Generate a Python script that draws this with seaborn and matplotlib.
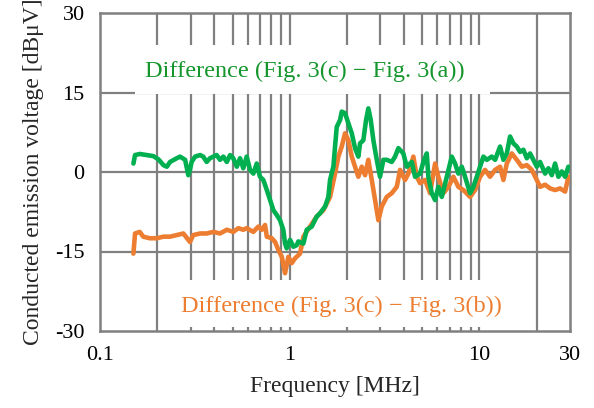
import numpy as np
import pandas as pd
import seaborn as sns
import matplotlib
matplotlib.use("Agg")
import matplotlib.pyplot as plt
from matplotlib.patches import Rectangle
from matplotlib.ticker import FixedLocator, NullFormatter, NullLocator

# ---- data (frequency in MHz, level in dB) ----
green_freq = [0.150, 0.153, 0.162, 0.176, 0.191, 0.203, 0.216, 0.225, 0.234, 0.254,
              0.264, 0.281, 0.292, 0.298, 0.304, 0.317, 0.337, 0.350, 0.365, 0.380,
              0.412, 0.429, 0.447, 0.466, 0.485, 0.504, 0.526, 0.547, 0.569, 0.593,
              0.618, 0.643, 0.670, 0.697, 0.726, 0.757, 0.788, 0.820, 0.854, 0.889,
              0.925, 0.945, 0.964, 1.004, 1.045, 1.089, 1.110, 1.180, 1.229, 1.306,
              1.388, 1.444, 1.536, 1.598, 1.631, 1.698, 1.733, 1.769, 1.842, 1.880,
              1.956, 2.037, 2.123, 2.209, 2.299, 2.347, 2.443, 2.525, 2.596, 2.673,
              2.759, 2.875, 2.992, 3.115, 3.246, 3.449, 3.590, 3.737, 3.970, 4.138,
              4.397, 4.577, 4.863, 5.062, 5.275, 5.378, 5.606, 5.835, 6.074, 6.330,
              6.726, 7.145, 7.438, 7.742, 8.067, 8.397, 8.921, 9.286, 9.678, 10.07,
              10.49, 10.93, 11.61, 12.09, 12.84, 13.37, 13.93, 14.50, 15.09, 15.73,
              16.37, 17.04, 17.76, 18.48, 19.23, 20.05, 20.86, 22.18, 23.08, 24.05,
              25.03, 26.06, 27.16, 28.27, 29.42]
green_db = [1.6, 3.2, 3.4, 3.2, 3.0, 2.4, 1.3, 1.0, 1.9, 2.6,
            2.9, 2.3, -0.6, 0.4, 1.9, 2.9, 3.2, 2.9, 1.9, 2.6,
            3.2, 2.3, 2.9, 1.9, 3.2, 2.6, 1.0, 2.6, 0.7, 2.9,
            0.4, -0.3, 1.6, -0.9, -1.5, -3.4, -5.3, -7.2, -8.1, -9.1,
            -10.9, -13.5, -14.4, -12.8, -14.1, -13.8, -13.1, -13.5, -10.9, -10.3,
            -8.4, -7.8, -6.5, -4.7, -1.5, 1.0, 4.8, 8.5, 9.8, 11.4,
            11.1, 9.2, 7.3, 4.5, 2.9, 5.4, 6.0, 9.8, 12.0, 9.8,
            6.0, 2.3, -0.9, 2.3, 2.3, 1.9, 2.9, 4.5, 3.5, 1.0,
            1.9, -0.9, -0.3, 1.9, 3.5, -0.9, -4.0, -5.3, -2.8, -4.7,
            -0.9, 2.9, 1.6, -0.3, 1.0, -0.9, -4.0, -2.8, -0.9, 1.0,
            2.9, 2.3, 2.9, 2.3, 4.8, 2.3, 3.5, 6.7, 5.4, 4.8,
            3.8, 4.2, 2.6, 3.5, 2.3, 1.0, 1.9, -0.3, 0.7, -0.6,
            1.6, -0.9, 0.1, -0.9, 1.0]

orange_freq = [0.150, 0.153, 0.162, 0.169, 0.183, 0.199, 0.216, 0.234, 0.254, 0.275,
               0.298, 0.310, 0.337, 0.365, 0.396, 0.429, 0.466, 0.504, 0.536, 0.569,
               0.593, 0.643, 0.683, 0.712, 0.741, 0.757, 0.804, 0.837, 0.871, 0.908,
               0.945, 0.983, 1.024, 1.066, 1.133, 1.180, 1.279, 1.388, 1.504, 1.631,
               1.733, 1.804, 1.880, 1.956, 2.037, 2.123, 2.209, 2.299, 2.396, 2.495,
               2.596, 2.706, 2.817, 2.932, 3.055, 3.246, 3.449, 3.665, 3.814, 4.053,
               4.219, 4.484, 4.672, 4.863, 5.167, 5.491, 5.835, 6.074, 6.453, 6.858,
               7.286, 7.742, 8.225, 8.921, 9.480, 10.07, 10.70, 11.37, 12.09, 12.84,
               13.37, 13.93, 14.80, 15.73, 16.71, 17.76, 18.87, 20.05, 20.86, 22.18,
               23.56, 25.03, 26.60, 28.27, 29.42]
orange_db = [-15.4, -11.6, -11.3, -12.2, -12.5, -12.5, -12.2, -12.2, -11.9, -11.6,
             -13.2, -11.9, -11.6, -11.6, -11.3, -11.6, -10.9, -11.3, -10.6, -10.9,
             -10.6, -11.3, -10.3, -10.9, -10.0, -12.2, -12.5, -13.2, -14.7, -16.0,
             -19.1, -16.0, -17.2, -16.3, -15.4, -12.2, -10.3, -8.4, -7.2, -4.7,
             -0.3, 2.9, 4.8, 7.3, 6.0, 2.9, 1.0, -0.9, 1.0, -0.6,
             2.3, -1.5, -5.3, -9.1, -6.5, -4.7, -4.0, -2.8, 0.4, -1.5,
             -0.3, 2.9, -0.9, -2.1, -1.5, -4.0, 1.6, -0.9, -4.0, -2.8,
             -0.9, -2.8, -3.4, -4.7, -3.4, -0.9, 0.4, -0.9, 0.4, 1.0,
             -1.5, 1.6, 3.5, 2.3, 1.0, 1.3, 0.4, -1.5, -2.8, -2.4,
             -3.1, -3.4, -3.1, -3.7, -0.9]

x_tick_values = [0.1, 1, 10, 30]
x_tick_labels = ["0.1", "1", "10", "30"]
y_tick_values = [-30, -15, 0, 15, 30]
y_tick_labels = ["-30", "-15", "0", "15", "30"]
grid_x = [0.2, 0.3, 0.4, 0.5, 0.6, 0.7, 0.8, 0.9, 1, 2, 3, 4, 5, 6, 7, 8, 9, 10, 20]
grid_y = [-15, 0, 15]
label_green = "Difference (Fig. 3(c) \u2212 Fig. 3(a))"
label_orange = "Difference (Fig. 3(c) \u2212 Fig. 3(b))"

GREEN = "#00B050"
ORANGE = "#ED7D31"
GRID = "#808080"

sns.set_theme(style="white")
plt.rcParams["font.family"] = ["Liberation Serif", "DejaVu Serif"]

df_g = pd.DataFrame({"f": green_freq, "v": green_db})
df_o = pd.DataFrame({"f": orange_freq, "v": orange_db})

fig = plt.figure(figsize=(5.94, 4.08), dpi=100)
ax = fig.add_axes([100 / 594, 77 / 408, 470 / 594, 318 / 408])

ax.set_xscale("log")
ax.set_xlim(0.1, 30)
ax.set_ylim(-30, 30)

for xv in grid_x:
    ax.axvline(xv, color=GRID, lw=1.6, zorder=0.5)
for yv in grid_y:
    ax.axhline(yv, color=GRID, lw=1.6, zorder=0.5)

# white label boxes
ax.add_patch(Rectangle((0.0745, 0.745), 0.7555, 0.155, transform=ax.transAxes,
                       facecolor="white", edgecolor="none", zorder=1))
ax.add_patch(Rectangle((0.149, 0.012), 0.723, 0.148, transform=ax.transAxes,
                       facecolor="white", edgecolor="none", zorder=1))

sns.lineplot(data=df_o, x="f", y="v", ax=ax, color=ORANGE, lw=3.3, zorder=3,
             estimator=None, sort=False)
sns.lineplot(data=df_g, x="f", y="v", ax=ax, color=GREEN, lw=3.3, zorder=4,
             estimator=None, sort=False)

ax.text(0.436, 0.799, label_green, transform=ax.transAxes, color="#14962C",
        fontsize=17.5, ha="center", va="baseline", zorder=5)
ax.text(0.514, 0.060, label_orange, transform=ax.transAxes, color=ORANGE,
        fontsize=17.5, ha="center", va="baseline", zorder=5)

ax.xaxis.set_major_locator(FixedLocator(x_tick_values))
ax.xaxis.set_minor_locator(NullLocator())
ax.xaxis.set_minor_formatter(NullFormatter())
ax.set_xticklabels(x_tick_labels)
ax.set_yticks(y_tick_values)
ax.set_yticklabels(y_tick_labels)
ax.tick_params(axis="both", length=0, labelsize=16, colors="black")
ax.tick_params(axis="x", pad=11)
ax.tick_params(axis="y", pad=11)

for s in ax.spines.values():
    s.set_color(GRID)
    s.set_linewidth(1.8)
    s.set_visible(True)

ax.set_xlabel("Frequency [MHz]", fontsize=17, labelpad=8)
ax.set_ylabel("Conducted emission voltage [dB\u03bcV]", fontsize=17, labelpad=8)

fig.savefig("out.png", dpi=100)
